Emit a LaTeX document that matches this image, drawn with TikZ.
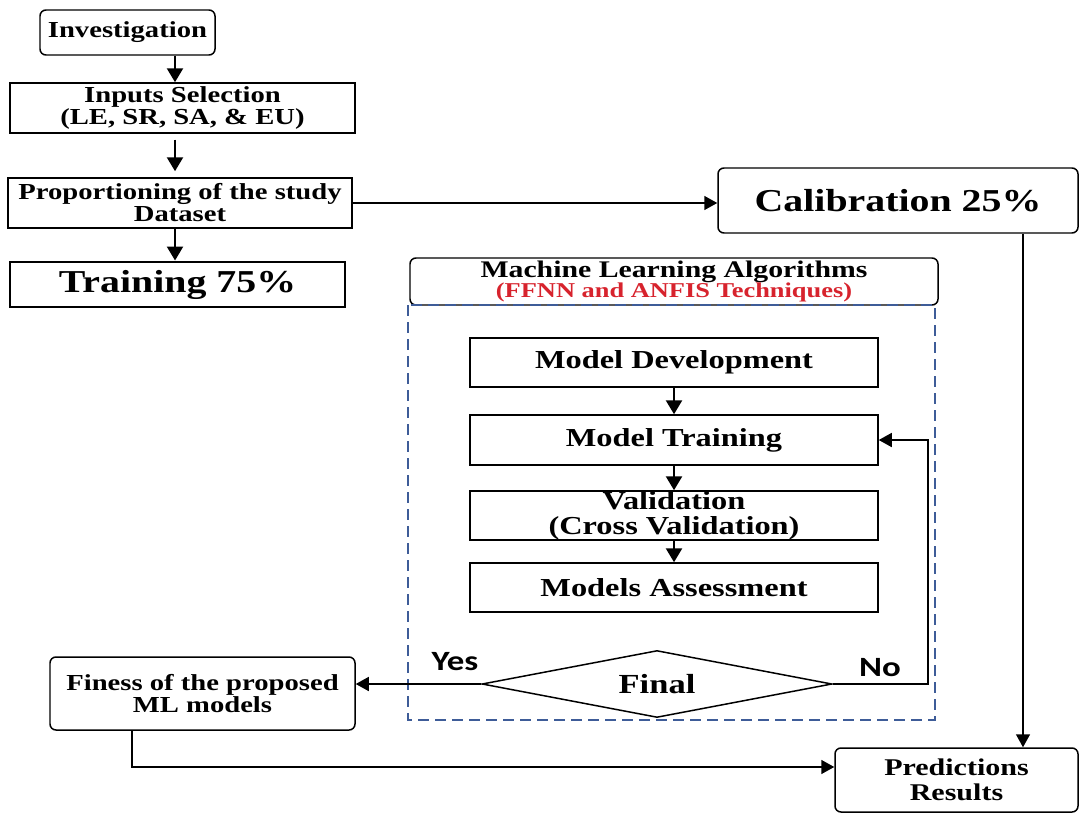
\documentclass[tikz,border=0pt]{standalone}
\usepackage{fontspec}
\setmainfont{Liberation Serif}[FakeStretch=1.25]
\newfontfamily\labelfont{Carlito}[FakeStretch=1.25]
\usetikzlibrary{arrows.meta,shapes.geometric}
\definecolor{frameblue}{RGB}{62,92,152}
\definecolor{techred}{RGB}{215,35,45}
\tikzset{
    box/.style={draw, line width=1.5pt, inner sep=0pt, align=center},
    rbox/.style={box, rounded corners=6pt},
    smalltxt/.style={font=\bfseries\fontsize{23}{22}\selectfont},
    midtxt/.style={font=\bfseries\fontsize{26}{25}\selectfont},
    bigtxt/.style={font=\bfseries\fontsize{32}{30}\selectfont},
    arr/.style={line width=2.5pt, -{Triangle[length=14bp,width=16bp]}},
    thinarr/.style={line width=1.5pt, -{Triangle[length=13bp,width=14bp]}},
    yesno/.style={font=\labelfont\bfseries\fontsize{28}{28}\selectfont}
}
\begin{document}
\begin{tikzpicture}[x=1bp, y=-1bp]
    \useasboundingbox (0,0) rectangle (1088,815);

    % Helper coordinates for the connectors
    \coordinate (spine) at (175,0);
    \coordinate (calx) at (1023,0);
    \coordinate (loopx) at (928,0);
    \coordinate (finx) at (132,0);
    \coordinate (predy) at (0,767);

    % Left column - data preparation
    \node[rbox, smalltxt, minimum width=175bp, minimum height=45bp] (invest) at (127.5,32.5) {Investigation};
    \node[box, smalltxt, minimum width=345bp, minimum height=50bp] (inputs) at (182.5,108) {Inputs Selection\\(LE, SR, SA, \& EU)};
    \node[box, smalltxt, minimum width=344bp, minimum height=50bp] (propor) at (180,203) {Proportioning of the study\\Dataset};
    \node[box, bigtxt, line width=3pt, minimum width=335bp, minimum height=45bp] (train) at (177.5,284.5) {Training 75\%};

    % Calibration split
    \node[rbox, bigtxt, minimum width=360bp, minimum height=65bp] (calib) at (898,200.5) {Calibration 25\%};

    % ML block header and dashed frame
    \node[rbox, minimum width=528bp, minimum height=47bp, font=\bfseries\fontsize{23.9}{21}\selectfont] (mlhead) at (674,281.5)
        {Machine Learning Algorithms\\{\color{techred}\fontsize{21.2}{21}\selectfont (FFNN and ANFIS Techniques)}};
    \draw[frameblue, line width=2.2pt, dash pattern=on 11bp off 6bp] (408,305) rectangle (935,720);

    % Steps inside the ML block
    \node[box, midtxt, minimum width=408bp, minimum height=49bp] (modeldev) at (674,362.5) {Model Development};
    \node[box, midtxt, minimum width=408bp, minimum height=50bp] (modeltrain) at (674,440) {Model Training};
    \node[box, midtxt, minimum width=408bp, minimum height=49bp] (valid) at (674,515.5) {Validation\\(Cross Validation)};
    \node[box, midtxt, minimum width=408bp, minimum height=49bp] (assess) at (674,587.5) {Models Assessment};

    % Decision
    \node[draw, diamond, line width=1.5pt, aspect=5.2, inner sep=0pt, minimum width=350bp, minimum height=67bp,
        font=\bfseries\fontsize{27.7}{25}\selectfont] (final) at (657,684) {Final};
    \node[yesno] (yes) at (455,662) {Yes};
    \node[yesno] (no) at (880,668) {No};

    % Outputs
    \node[rbox, smalltxt, minimum width=305bp, minimum height=73bp] (finess) at (202.5,693.5) {Finess of the proposed\\ML models};
    \node[rbox, font=\bfseries\fontsize{24.1}{25}\selectfont, minimum width=243bp, minimum height=64bp] (predict) at (956.5,780) {Predictions\\Results};

    % Arrows
    \draw[arr] (invest.south -| spine) -- (inputs.north -| spine);
    \draw[arr, shorten <=6bp, shorten >=6bp] (inputs.south -| spine) -- (propor.north -| spine);
    \draw[arr] (propor.south -| spine) -- (train.north -| spine);
    \draw[thinarr] (propor.east) -- (propor.east -| calib.west);
    \draw[thinarr] (calib.south -| calx) -- (predict.north -| calx);
    \draw[arr] (modeldev) -- (modeltrain);
    \draw[arr] (modeltrain) -- (valid);
    \draw[arr] (valid) -- (assess);
    \draw[thinarr] (final.west) -- (final.west -| finess.east);
    \draw[thinarr] (final.east) -- (final.east -| loopx) |- (modeltrain.east);
    \draw[thinarr] (finess.south -| finx) |- (predy -| predict.west);
\end{tikzpicture}
\end{document}
